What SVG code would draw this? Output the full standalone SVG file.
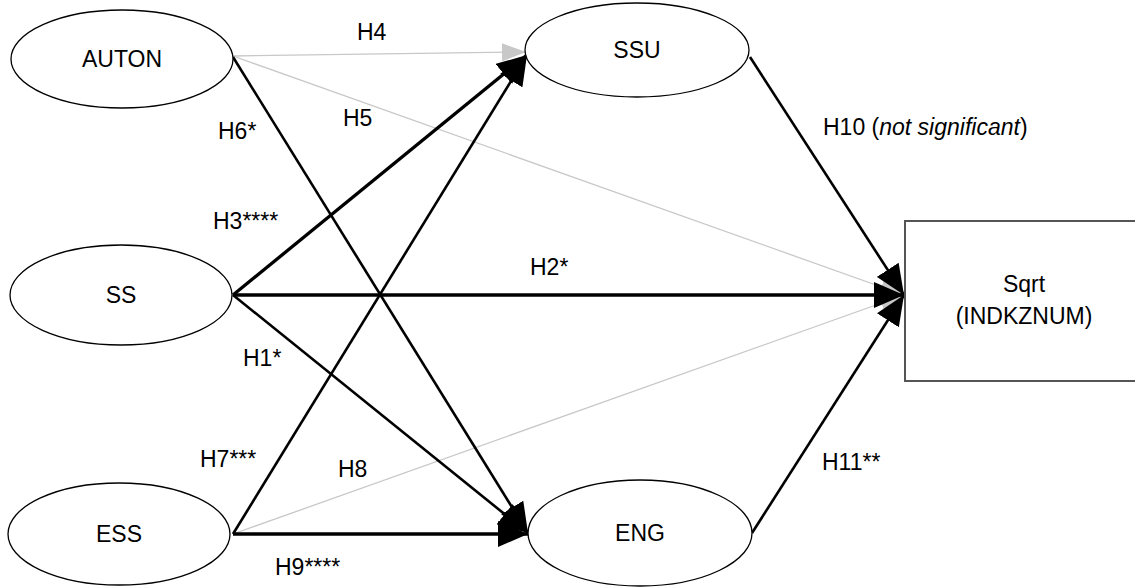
<svg xmlns="http://www.w3.org/2000/svg" width="1135" height="588" viewBox="0 0 1135 588">
  <style>
    text { font-family: "Liberation Sans", Arial, sans-serif; font-size: 23px; fill: #000; }
    .node { fill: #fff; stroke: #000; stroke-width: 1.3; }
    .box { fill: #fff; stroke: #555; stroke-width: 2; }
    .lbl { text-anchor: middle; }
    .sig { stroke: #000; stroke-width: 2.6; fill: none; marker-end: url(#headBlack); }
    .strong { stroke-width: 3.3; }
    .ns { stroke: #c8c8c8; stroke-width: 1.3; fill: none; marker-end: url(#headGray); }
  </style>
  <defs>
    <marker id="headBlack" markerUnits="userSpaceOnUse" markerWidth="30" markerHeight="26" refX="30" refY="13" orient="auto">
      <path d="M0,0 L30,13 L0,26 z" fill="#000"/>
    </marker>
    <marker id="headGray" markerUnits="userSpaceOnUse" markerWidth="24" markerHeight="18" refX="24" refY="9" orient="auto">
      <path d="M0,0 L24,9 L0,18 z" fill="#c8c8c8"/>
    </marker>
  </defs>

  <!-- paths between constructs -->
  <g id="connectors">
    <line class="ns" x1="233" y1="56" x2="526" y2="52"/>
    <line class="ns" x1="233" y1="56" x2="904" y2="295"/>
    <line class="ns" x1="233" y1="534" x2="904" y2="295"/>
    <line class="sig" x1="233" y1="57" x2="528" y2="533"/>
    <line class="sig strong" x1="233" y1="295" x2="527" y2="55"/>
    <line class="sig strong" x1="233" y1="295" x2="904" y2="295"/>
    <line class="sig" x1="233" y1="295" x2="528" y2="533"/>
    <line class="sig" x1="233" y1="534" x2="527" y2="55"/>
    <line class="sig strong" x1="233" y1="534" x2="528" y2="534"/>
    <line class="sig" x1="750" y1="57" x2="904" y2="295"/>
    <line class="sig" x1="752" y1="533" x2="904" y2="295"/>
  </g>

  <!-- path labels -->
  <g id="labels">
    <text x="357" y="40">H4</text>
    <text x="343" y="126">H5</text>
    <text x="218" y="139">H6*</text>
    <text x="823" y="135">H10 (<tspan font-style="italic">not significant</tspan>)</text>
    <text x="213" y="229">H3****</text>
    <text x="530" y="275">H2*</text>
    <text x="243" y="366">H1*</text>
    <text x="200" y="467">H7***</text>
    <text x="338" y="477">H8</text>
    <text x="822" y="470">H11**</text>
    <text x="275" y="575">H9****</text>
  </g>

  <g id="AUTON">
    <ellipse class="node" cx="122" cy="59" rx="111" ry="49"/>
    <text class="lbl" x="122" y="67">AUTON</text>
  </g>
  <g id="SS">
    <ellipse class="node" cx="121" cy="295" rx="111" ry="50"/>
    <text class="lbl" x="121" y="303">SS</text>
  </g>
  <g id="ESS">
    <ellipse class="node" cx="119" cy="534" rx="111" ry="51"/>
    <text class="lbl" x="119" y="542">ESS</text>
  </g>
  <g id="SSU">
    <ellipse class="node" cx="637" cy="50" rx="112" ry="47"/>
    <text class="lbl" x="637" y="58">SSU</text>
  </g>
  <g id="ENG">
    <ellipse class="node" cx="640" cy="533" rx="112" ry="53"/>
    <text class="lbl" x="640" y="541">ENG</text>
  </g>
  <g id="INDKZNUM">
    <rect class="box" x="905" y="221" width="240" height="160"/>
    <text class="lbl" x="1024" y="292">Sqrt</text>
    <text class="lbl" x="1024" y="324">(INDKZNUM)</text>
  </g>
</svg>
